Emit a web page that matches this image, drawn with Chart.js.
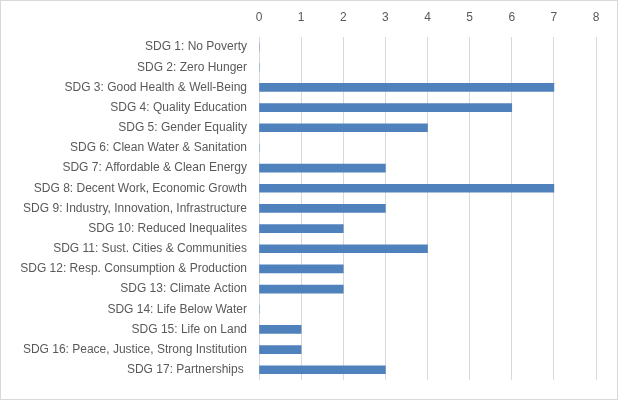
<!DOCTYPE html>
<html>
<head>
<meta charset="utf-8">
<script src="https://cdn.jsdelivr.net/npm/chart.js@4"></script>
<style>
  body { margin: 0; background: #fff; }
  #wrap { width: 618px; height: 400px; box-sizing: border-box; border: 1px solid #d9d9d9; }
  #chart { display: block; }
</style>
</head>
<body>
<div id="wrap"><canvas id="chart" width="616" height="398"></canvas></div>
<script>
// SDG goals and number of items per goal
const goals = [
    'SDG 1: No Poverty',
    'SDG 2: Zero Hunger',
    'SDG 3: Good Health & Well-Being',
    'SDG 4: Quality Education',
    'SDG 5: Gender Equality',
    'SDG 6: Clean Water & Sanitation',
    'SDG 7: Affordable & Clean Energy',
    'SDG 8: Decent Work, Economic Growth',
    'SDG 9: Industry, Innovation, Infrastructure',
    'SDG 10: Reduced Inequalites',
    'SDG 11: Sust. Cities & Communities',
    'SDG 12: Resp. Consumption & Production',
    'SDG 13: Climate Action',
    'SDG 14: Life Below Water',
    'SDG 15: Life on Land',
    'SDG 16: Peace, Justice, Strong Institution',
    'SDG 17: Partnerships '
];
const counts = [0, 0, 7, 6, 4, 0, 3, 7, 3, 2, 4, 2, 2, 0, 1, 1, 3];
const xTicks = [0, 1, 2, 3, 4, 5, 6, 7, 8];

const font = { family: 'Liberation Sans, Arial, sans-serif', size: 12 };

new Chart(document.getElementById('chart'), {
    type: 'bar',
    data: {
        labels: goals,
        datasets: [{
            data: counts,
            backgroundColor: '#4f81bd',
            borderWidth: 0,
            barThickness: 8
        }]
    },
    options: {
        indexAxis: 'y',
        responsive: false,
        animation: false,
        layout: { padding: { left: 0, top: 0, right: 21, bottom: 18 } },
        plugins: { legend: { display: false }, tooltip: { enabled: false } },
        scales: {
            x: {
                position: 'top',
                min: xTicks[0],
                max: xTicks[xTicks.length - 1],
                afterBuildTicks: s => { s.ticks = xTicks.map(v => ({ value: v })); },
                afterFit: s => { s.height = 36; },
                grid: { color: '#d9d9d9', drawTicks: false },
                border: { display: false },
                ticks: { color: '#595959', font: font, padding: 12 }
            },
            y: {
                afterFit: s => { s.width = 258; },
                grid: { display: false, drawTicks: false },
                border: { display: false },
                ticks: { color: '#595959', font: font, padding: 12, autoSkip: false }
            }
        }
    }
});
</script>
</body>
</html>
